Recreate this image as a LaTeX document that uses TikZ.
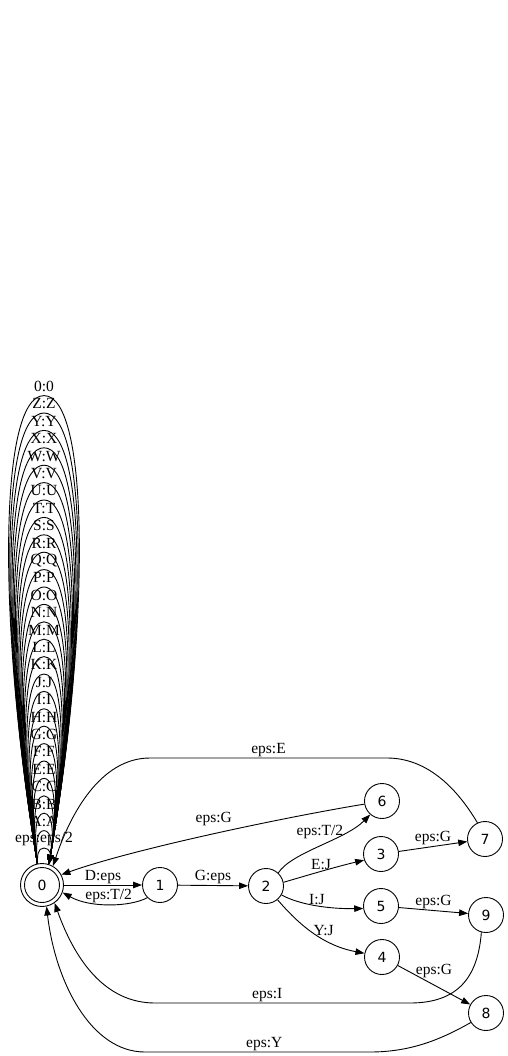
\documentclass[tikz,border=0pt]{standalone}
\usepackage{fontspec}
\setmainfont{Liberation Serif}
\newfontfamily\digitfont{DejaVu Sans}
\usetikzlibrary{arrows.meta}

\begin{document}
\begin{tikzpicture}[
x=1pt, y=-1pt,
line width=0.9pt,
st/.style={circle, draw, minimum size=35pt, inner sep=0pt, font=\digitfont\fontsize{14}{16}\selectfont},
fin/.style={st, minimum size=43pt, path picture={\draw (path picture bounding box.center) circle (17.5pt);}},
elab/.style={font=\fontsize{15.5}{17}\selectfont, inner sep=1pt},
tr/.style={-{Triangle[length=9pt, width=6.5pt]}}
]
\useasboundingbox (0,0) rectangle (507,1056);

\node[fin] (n0) at (42,885) {0};
\node[st] (n1) at (160,885) {1};
\node[st] (n2) at (266,886) {2};
\node[st] (n6) at (382,801) {6};
\node[st] (n3) at (381,854) {3};
\node[st] (n7) at (485,839) {7};
\node[st] (n5) at (381,906) {5};
\node[st] (n9) at (486,915) {9};
\node[st] (n4) at (382,957) {4};
\node[st] (n8) at (486,1013) {8};

% self loops on 0
\foreach \lbl [count=\k from 0] in {eps:eps/2, A:A, B:B, C:C, E:E, F:F, G:G, H:H, I:I, J:J, K:K, L:L, M:M, N:N, O:O, P:P, Q:Q, R:R, S:S, T:T, U:U, V:V, W:W, X:X, Y:Y, Z:Z, 0:0}{
  \pgfmathsetmacro\ytop{848-17.4*\k}
  \pgfmathsetmacro\hw{(5+30*\k/26)/0.76}
  \pgfmathsetmacro\ymid{864-0.5*(864-\ytop)}
  \draw[tr] (n0.102) .. controls ({44-\hw},\ymid) and ({44-\hw},\ytop) .. (44,\ytop)
    .. controls ({44+\hw},\ytop) and ({44+\hw},\ymid) .. (n0.72);
  \node[elab] at (44,\ytop-9) {\lbl};
}

\draw[tr] (n0) -- node[elab, above] {D:eps} (n1);
\draw[tr] (n1.225) .. controls (130,907) and (90,908) .. node[elab, above] {eps:T/2} (n0.-20);
\draw[tr] (n1) -- node[elab, above] {G:eps} (n2);
\draw[tr] (n2.47) .. controls (292,852) and (345,840) .. node[elab, above=5pt] {eps:T/2} (n6.229);
\draw[tr] (n2.12) .. controls (305,876) and (335,867) .. node[elab, above] {E:J} (n3.200);
\draw[tr] (n2.-30) .. controls (300,905) and (330,909) .. node[elab, above] {I:J} (n5.188);
\draw[tr] (n2.-50) .. controls (295,920) and (320,945) .. node[elab, pos=0.55, above right=-3pt] {Y:J} (n4.168);
\draw[tr] (n3) -- node[elab, above] {eps:G} (n7);
\draw[tr] (n5) -- node[elab, above] {eps:G} (n9);
\draw[tr] (n4) -- node[elab, above=6pt] {eps:G} (n8);

% back to 0
\draw[tr] (n6.190) .. controls (280,818) and (130,850) .. node[elab, pos=0.48, above=7pt] {eps:G} (n0.28);
\draw[tr] (n7.115) .. controls (455,785) and (425,758) .. (387,758)
  -- node[elab, above] {eps:E} (150,758) .. controls (100,758) and (70,815) .. (n0.60);
\draw[tr] (n9.-105) .. controls (478,975) and (460,1003) .. (410,1003)
  -- node[elab, pos=0.56, above] {eps:I} (155,1003) .. controls (105,1003) and (75,960) .. (n0.-55);
\draw[tr] (n8.212) .. controls (440,1040) and (410,1052) .. (370,1052)
  -- node[elab, pos=0.47, above] {eps:Y} (145,1052) .. controls (90,1052) and (55,980) .. (n0.-78);
\end{tikzpicture}
\end{document}
